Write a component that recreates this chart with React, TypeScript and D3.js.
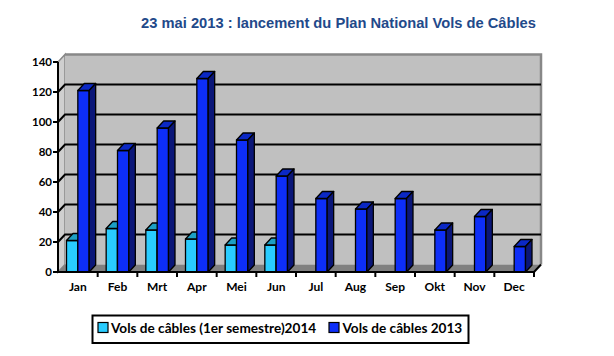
import React from "react";
import * as d3 from "d3";

const months = ["Jan", "Feb", "Mrt", "Apr", "Mei", "Jun", "Jul", "Aug", "Sep", "Okt", "Nov", "Dec"];
const vols2014: (number | null)[] = [21, 29, 28, 22, 18, 18, null, null, null, null, null, null];
const vols2013: number[] = [121, 81, 96, 129, 88, 64, 49, 42, 49, 28, 37, 17];
const yTicks = [0, 20, 40, 60, 80, 100, 120, 140];
const seriesNames = ["Vols de câbles (1er semestre)2014", "Vols de câbles 2013"];
const title = "23 mai 2013 : lancement du Plan National Vols de Câbles";

const W = 614, H = 356;
const X0 = 58, X1 = 534, Y0 = 272, YTOP = 62;
const WDX = 7, WDY = 7.5; // wall depth
const BDX = 6.5, BDY = 7; // bar depth

const colors = [
  { front: "#29CCFF", top: "#1C9FC4", side: "#178AAA" },
  { front: "#0D2EF8", top: "#0B28C4", side: "#0A1678" },
];

export default function App() {
  const x = d3.scaleBand<string>().domain(months).range([X0, X1]).paddingInner(0).paddingOuter(0);
  const inner = d3.scaleBand<string>().domain(["s0", "s1"]).range([0, x.bandwidth()]).paddingInner(0).paddingOuter(0.75);
  const y = d3.scaleLinear().domain([0, 140]).range([Y0, YTOP]);
  const font = "Lato, 'Open Sans', sans-serif";

  const bar = (bx: number, bw: number, v: number, c: typeof colors[0], key: string) => {
    const yt = y(v);
    const x2 = bx + bw;
    return (
      <g key={key} stroke="#000" strokeWidth={1.3} strokeLinejoin="round">
        <rect x={bx} y={yt} width={bw} height={Y0 - yt} fill={c.front} />
        <path d={`M${bx},${yt}L${bx + BDX},${yt - BDY}L${x2 + BDX},${yt - BDY}L${x2},${yt}Z`} fill={c.top} />
        <path d={`M${x2},${yt}L${x2 + BDX},${yt - BDY}L${x2 + BDX},${Y0 - BDY}L${x2},${Y0}Z`} fill={c.side} />
      </g>
    );
  };

  return (
    <svg width={W} height={H} style={{ position: "absolute", left: 0, top: 0, background: "#fff" }}>
      <text x={338.5} y={27.5} textAnchor="middle" fontFamily="'Liberation Sans', Arial, sans-serif" fontWeight="bold" fontSize={14.7} fill="#22498A">
        {title}
      </text>
      {/* left wall */}
      <path d={`M${X0},${Y0}L${X0},${YTOP}L${X0 + WDX},${YTOP - WDY}L${X0 + WDX},${Y0 - WDY}Z`} fill="#CFCFCF" stroke="#888" strokeWidth={1.5} />
      {/* back wall */}
      <rect x={X0 + WDX} y={YTOP - WDY} width={X1 - X0} height={Y0 - YTOP} fill="#C0C0C0" />
      <path d={`M${X0 + WDX},${YTOP - WDY}L${X1 + WDX},${YTOP - WDY}L${X1 + WDX},${Y0 - WDY}`} fill="none" stroke="#888" strokeWidth={2.5} />
      {/* floor */}
      <path d={`M${X0},${Y0}L${X1},${Y0}L${X1 + WDX},${Y0 - WDY}L${X0 + WDX},${Y0 - WDY}Z`} fill="#808080" />
      {/* gridlines */}
      {yTicks.filter((t) => t > 0 && t < 140).map((t) => (
        <path key={t} d={`M${X0},${y(t)}L${X0 + WDX},${y(t) - WDY}L${X1 + WDX},${y(t) - WDY}`} fill="none" stroke="#000" strokeWidth={2} />
      ))}
      {/* bars */}
      {months.map((m, i) => {
        const bx = x(m)!;
        const v14 = vols2014[i];
        return (
          <g key={m}>
            {v14 != null && bar(bx + inner("s0")!, inner.bandwidth(), v14, colors[0], "a")}
            {bar(bx + inner("s1")!, inner.bandwidth(), vols2013[i], colors[1], "b")}
          </g>
        );
      })}
      {/* axes */}
      <line x1={X0} x2={X0} y1={YTOP} y2={Y0 + 1} stroke="#000" strokeWidth={2} />
      <line x1={X0 - 1} x2={X1} y1={Y0} y2={Y0} stroke="#000" strokeWidth={2} />
      <line x1={X1} x2={X1 + WDX} y1={Y0} y2={Y0 - WDY} stroke="#000" strokeWidth={2} />
      {yTicks.map((t) => (
        <g key={t}>
          <line x1={X0 - 5} x2={X0} y1={y(t)} y2={y(t)} stroke="#000" strokeWidth={2} />
          <text x={52} y={y(t) + 4} textAnchor="end" fontFamily={font} fontWeight="bold" fontSize={11.5} fill="#000">{t}</text>
        </g>
      ))}
      {months.map((m) => (
        <line key={m} x1={x(m)! + x.bandwidth()} x2={x(m)! + x.bandwidth()} y1={Y0} y2={Y0 + 5} stroke="#000" strokeWidth={2} />
      ))}
      {months.map((m) => (
        <text key={m} x={x(m)! + x.bandwidth() / 2} y={291} textAnchor="middle" fontFamily={font} fontWeight="bold" fontSize={12} fill="#000">{m}</text>
      ))}
      {/* legend */}
      <rect x={92.5} y={315.5} width={376} height={27.5} fill="#fff" stroke="#000" strokeWidth={2} />
      <rect x={98} y={322.5} width={10} height={10} fill={colors[0].front} stroke="#000" strokeWidth={1.2} />
      <text x={111} y={332.5} fontFamily={font} fontWeight="bold" fontSize={13.6} fill="#000">{seriesNames[0]}</text>
      <rect x={329} y={322.5} width={10} height={10} fill={colors[1].front} stroke="#000" strokeWidth={1.2} />
      <text x={342.5} y={332.5} fontFamily={font} fontWeight="bold" fontSize={13.6} fill="#000">{seriesNames[1]}</text>
    </svg>
  );
}
